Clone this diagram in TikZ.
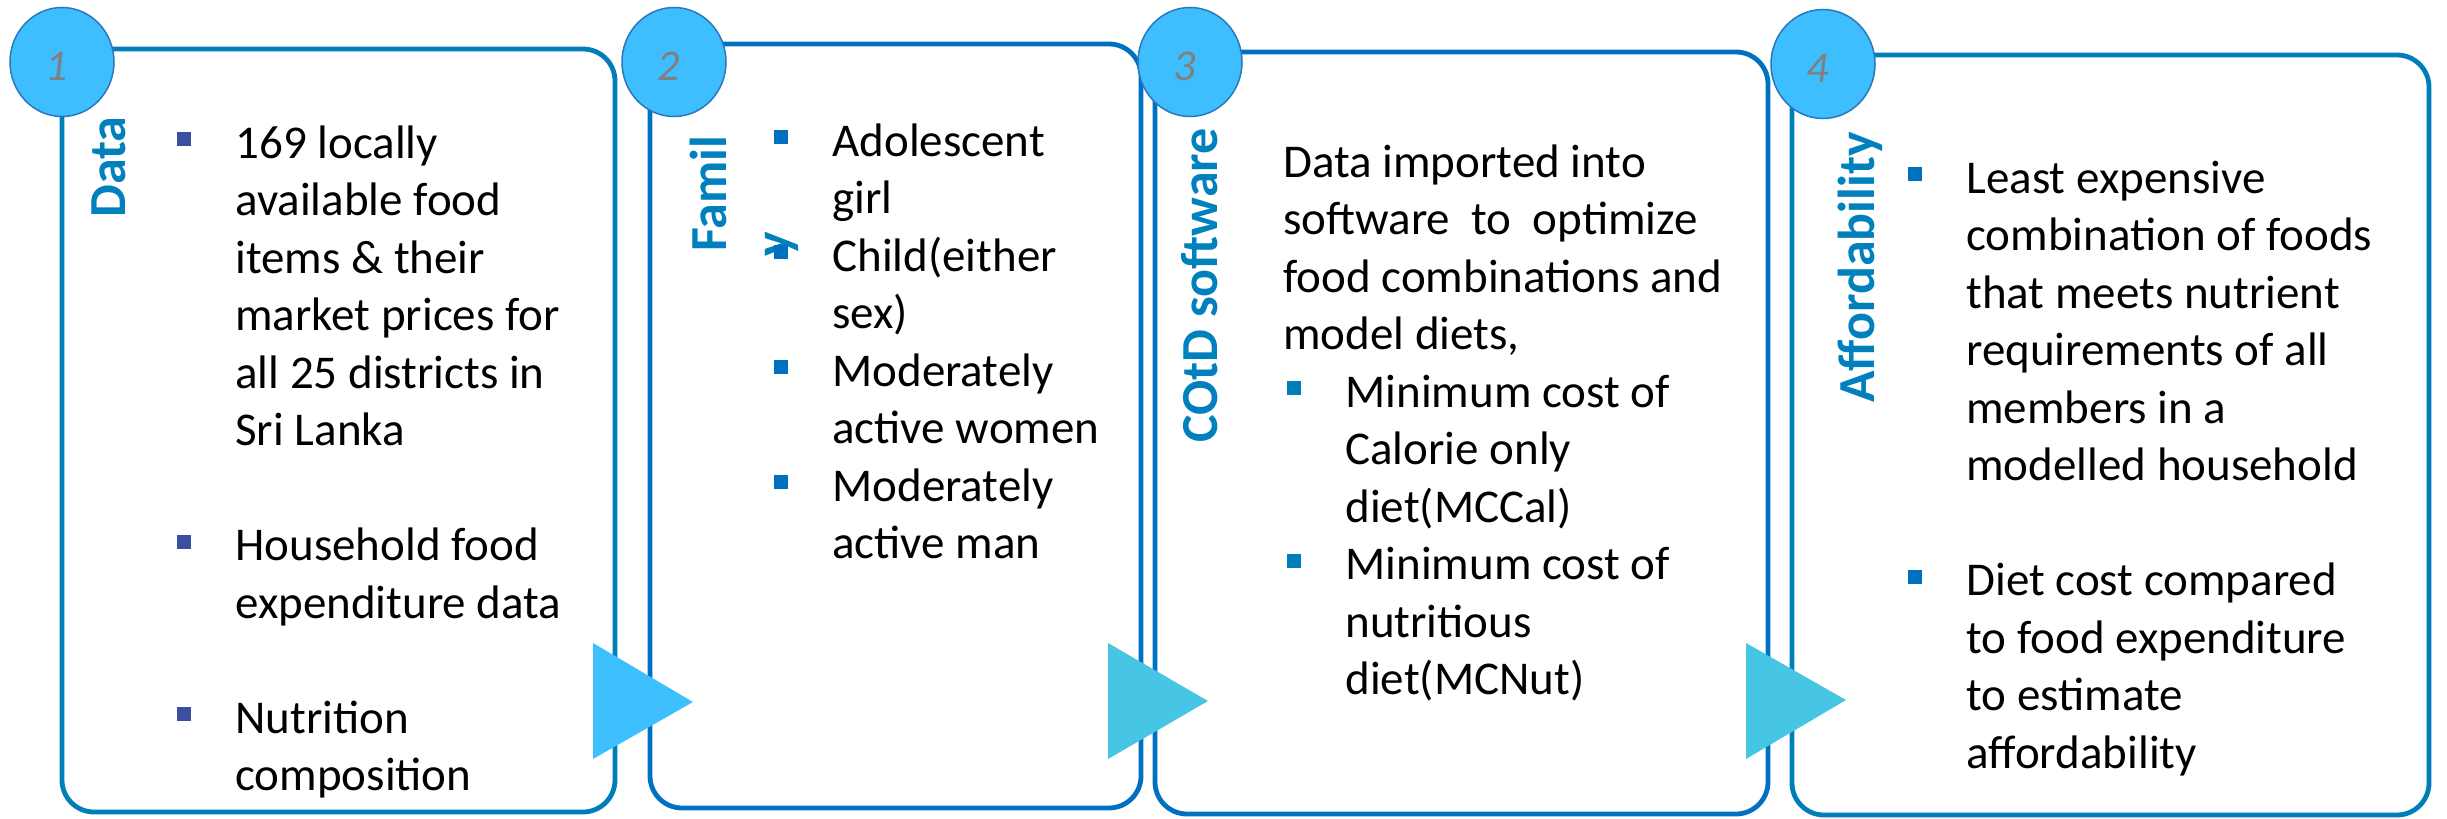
\documentclass[tikz,border=0pt]{standalone}
\usepackage{fontspec}
\setmainfont{Carlito}
\usetikzlibrary{shapes.geometric}

% palette
\definecolor{ringfill}{RGB}{62,190,255}
\definecolor{ringline}{RGB}{40,120,190}
\definecolor{arrowA}{RGB}{62,192,255}
\definecolor{arrowB}{RGB}{70,197,228}
\definecolor{frameA}{RGB}{0,126,186}
\definecolor{frameB}{RGB}{0,112,192}
\definecolor{headblue}{RGB}{0,128,188}
\definecolor{bulA}{RGB}{60,78,160}
\definecolor{bulB}{RGB}{0,112,192}
\definecolor{bulC}{RGB}{0,126,186}
\definecolor{numgray}{RGB}{128,128,128}

% square bullet, hanging indent and first-line strut
\newcommand{\sqbul}[1]{\makebox[29pt][l]{\textcolor{#1}{\rule[6pt]{7pt}{7pt}}}}
\newcommand{\cont}{\hspace*{29pt}}
\newcommand{\topstrut}{\rule{0pt}{20pt}}

\begin{document}
\begin{tikzpicture}[x=0.5pt,y=-0.5pt,
  panel/.style={draw, line width=2.4pt, rounded corners=16pt, inner sep=0pt, fill=none},
  body/.style={anchor=north west, inner sep=0pt, align=left,
    font=\fontsize{23.5pt}{28.75pt}\selectfont},
  head/.style={rotate=90, anchor=base west, inner sep=0pt, text=headblue,
    font=\bfseries\fontsize{26pt}{31pt}\selectfont},
  ring/.style={ellipse, draw=ringline, line width=0.75pt, fill=ringfill,
    minimum width=52pt, minimum height=54.5pt, inner sep=0pt},
  numtxt/.style={inner sep=0pt, text=numgray,
    font=\itshape\fontsize{22pt}{26pt}\selectfont}]

\useasboundingbox (0,0) rectangle (2447,819);

% the four stage panels
\node[panel, draw=frameA, minimum width=276.5pt, minimum height=381.5pt] (b1) at (338.5,430.5) {};
\node[panel, draw=frameB, minimum width=245.5pt, minimum height=382pt] (b2) at (895.5,426) {};
\node[panel, draw=frameB, minimum width=306.5pt, minimum height=381pt] (b3) at (1461.5,433) {};
\node[panel, draw=frameA, minimum width=318.5pt, minimum height=380pt] (b4) at (2110.5,435) {};

% vertical stage titles
\node[head] (h1) at (125,218) {Data};
\node[head] (h2a) at (726,252) {Famil};
\node[head] (h2b) at (790,257) {y};
\node[head] (h3) at (1217,443) {COtD software};
\node[head] (h4) at (1874,403) {Affordability};

% panel contents
\node[body] (t1) at (177,118) {\topstrut\sqbul{bulA}169 locally\\
  \cont available food\\
  \cont items \& their\\
  \cont market prices for\\
  \cont all 25 districts in\\
  \cont Sri Lanka\\[28.75pt]
  \sqbul{bulA}Household food\\
  \cont expenditure data\\[28.75pt]
  \sqbul{bulA}Nutrition\\
  \cont composition};

\node[body] (t2) at (774,116) {\topstrut\sqbul{bulB}Adolescent\\
  \cont girl\\
  \sqbul{bulB}Child(either\\
  \cont sex)\\
  \sqbul{bulB}Moderately\\
  \cont active women\\
  \sqbul{bulB}Moderately\\
  \cont active man};

\node[body] (t3) at (1283,137) {\topstrut Data imported into\\
  software~ to~ optimize\\
  food combinations and\\
  model diets,\\
  \hspace*{2pt}\sqbul{bulC}Minimum cost of\\
  \hspace*{31pt}Calorie only\\
  \hspace*{31pt}diet(MCCal)\\
  \hspace*{2pt}\sqbul{bulC}Minimum cost of\\
  \hspace*{31pt}nutritious\\
  \hspace*{31pt}diet(MCNut)};

\node[body] (t4) at (1908,153) {\topstrut\sqbul{bulB}Least expensive\\
  \cont combination of foods\\
  \cont that meets nutrient\\
  \cont requirements of all\\
  \cont members in a\\
  \cont modelled household\\[28.75pt]
  \sqbul{bulB}Diet cost compared\\
  \cont to food expenditure\\
  \cont to estimate\\
  \cont affordability};

% flow arrowheads between panels
\fill[arrowA] (593,643) -- (693,702) -- (593,759) -- cycle;
\fill[arrowB] (1108,643) -- (1208,701) -- (1108,759) -- cycle;
\fill[arrowB] (1746,643) -- (1846,700) -- (1746,759) -- cycle;

% numbered discs
\node[ring] (c1) at (62,62) {};
\node[ring] (c2) at (674,62) {};
\node[ring] (c3) at (1190,62) {};
\node[ring] (c4) at (1823,64) {};
\node[numtxt] (n1) at (57,66) {1};
\node[numtxt] (n2) at (669,66) {2};
\node[numtxt] (n3) at (1185,66) {3};
\node[numtxt] (n4) at (1818,68) {4};
\end{tikzpicture}
\end{document}
